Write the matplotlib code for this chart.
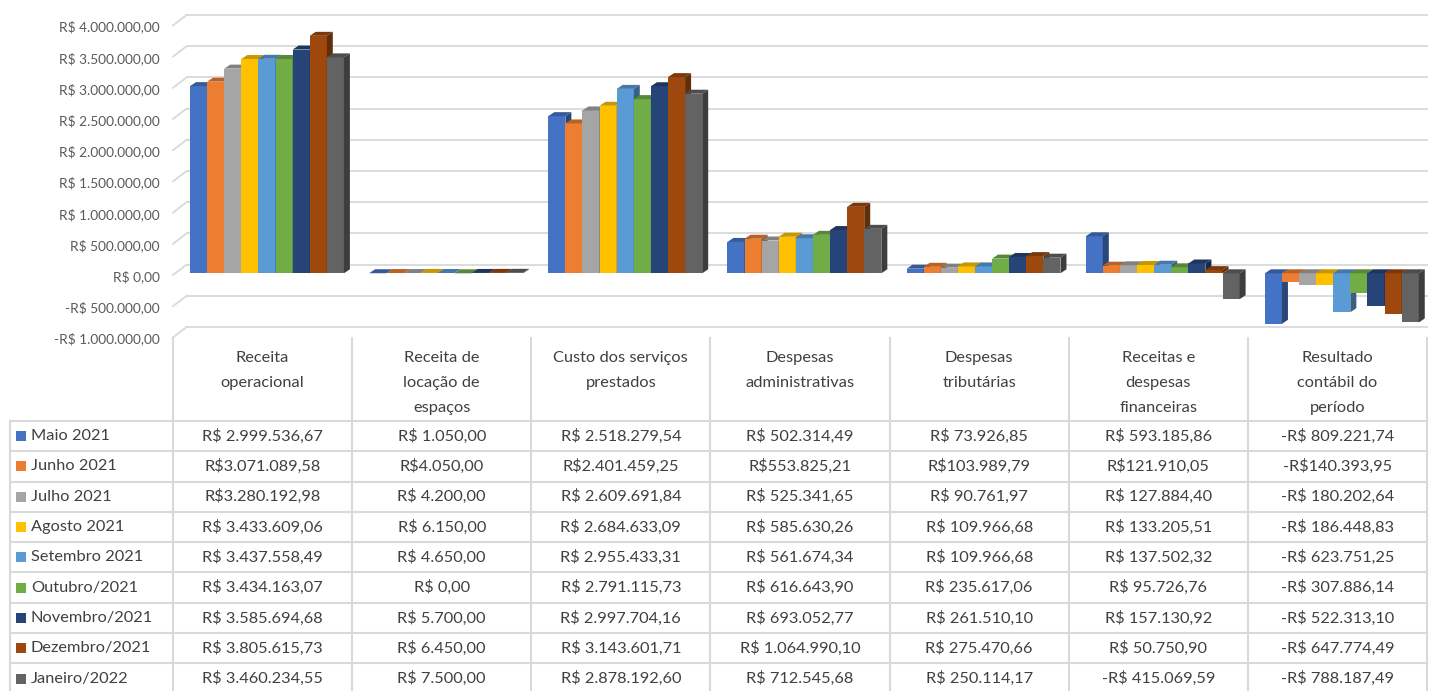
import matplotlib
matplotlib.use("Agg")
import matplotlib.pyplot as plt
import matplotlib.transforms as mtransforms
from matplotlib.patches import Polygon, Rectangle
from matplotlib.lines import Line2D
import numpy as np

plt.rcParams['font.family'] = ['Lato', 'DejaVu Sans']

# --- data (as shown in the table) ---
categories = [
    "Receita\noperacional",
    "Receita de\nlocação de\nespaços",
    "Custo dos serviços\nprestados",
    "Despesas\nadministrativas",
    "Despesas\ntributárias",
    "Receitas e\ndespesas\nfinanceiras",
    "Resultado\ncontábil do\nperíodo",
]
months = ["Maio 2021", "Junho 2021", "Julho 2021", "Agosto 2021", "Setembro 2021",
          "Outubro/2021", "Novembro/2021", "Dezembro/2021", "Janeiro/2022"]

receita_operacional = ["R$ 2.999.536,67", "R$3.071.089,58", "R$3.280.192,98", "R$ 3.433.609,06",
                       "R$ 3.437.558,49", "R$ 3.434.163,07", "R$ 3.585.694,68", "R$ 3.805.615,73",
                       "R$ 3.460.234,55"]
receita_locacao = ["R$ 1.050,00", "R$4.050,00", "R$ 4.200,00", "R$ 6.150,00", "R$ 4.650,00",
                   "R$ 0,00", "R$ 5.700,00", "R$ 6.450,00", "R$ 7.500,00"]
custo_servicos = ["R$ 2.518.279,54", "R$2.401.459,25", "R$ 2.609.691,84", "R$ 2.684.633,09",
                  "R$ 2.955.433,31", "R$ 2.791.115,73", "R$ 2.997.704,16", "R$ 3.143.601,71",
                  "R$ 2.878.192,60"]
despesas_adm = ["R$ 502.314,49", "R$553.825,21", "R$ 525.341,65", "R$ 585.630,26", "R$ 561.674,34",
                "R$ 616.643,90", "R$ 693.052,77", "R$ 1.064.990,10", "R$ 712.545,68"]
despesas_trib = ["R$ 73.926,85", "R$103.989,79", "R$ 90.761,97", "R$ 109.966,68", "R$ 109.966,68",
                 "R$ 235.617,06", "R$ 261.510,10", "R$ 275.470,66", "R$ 250.114,17"]
receitas_fin = ["R$ 593.185,86", "R$121.910,05", "R$ 127.884,40", "R$ 133.205,51", "R$ 137.502,32",
                "R$ 95.726,76", "R$ 157.130,92", "R$ 50.750,90", "-R$ 415.069,59"]
resultado = ["-R$ 809.221,74", "-R$140.393,95", "-R$ 180.202,64", "-R$ 186.448,83", "-R$ 623.751,25",
             "-R$ 307.886,14", "-R$ 522.313,10", "-R$ 647.774,49", "-R$ 788.187,49"]

columns = [receita_operacional, receita_locacao, custo_servicos, despesas_adm,
           despesas_trib, receitas_fin, resultado]

yticks = [4e6, 3.5e6, 3e6, 2.5e6, 2e6, 1.5e6, 1e6, 5e5, 0, -5e5, -1e6]
ytick_labels = ["R$ 4.000.000,00", "R$ 3.500.000,00", "R$ 3.000.000,00", "R$ 2.500.000,00",
                "R$ 2.000.000,00", "R$ 1.500.000,00", "R$ 1.000.000,00", "R$ 500.000,00",
                "R$ 0,00", "-R$ 500.000,00", "-R$ 1.000.000,00"]

colors = ["#4472C4", "#ED7D31", "#A5A5A5", "#FFC000", "#5B9BD5",
          "#70AD47", "#264478", "#9E480E", "#636363"]


def parse_brl(s):
    s = s.strip()
    sign = -1 if s.startswith("-") else 1
    s = s.replace("-", "").replace("R$", "").replace(" ", "").replace(".", "").replace(",", ".")
    return sign * float(s)


values = np.array([[parse_brl(s) for s in col] for col in columns])  # (cat, month)


def shade(c, f):
    r, g, b = matplotlib.colors.to_rgb(c)
    return (r * f, g * f, b * f)


# --- figure ---
W, H = 1429, 691
fig = plt.figure(figsize=(W / 100, H / 100), dpi=100)
fig.patch.set_facecolor("white")

y_top_px, y_bot_px = 23.7, 335.7
ax = fig.add_axes([173 / W, (H - y_bot_px) / H, (1427 - 173) / W, (y_bot_px - y_top_px) / H])
ax.set_xlim(0, len(categories))
ax.set_ylim(-1e6, 4e6)
ax.axis("off")

px_x = len(categories) / (1427 - 173)      # data units per pixel (x)
px_y = 5e6 / (y_bot_px - y_top_px)         # data units per pixel (y)

grid_c = "#D9D9D9"
# back gridlines + slanted side ticks
for v in yticks:
    ax.add_line(Line2D([13.7 * px_x, len(categories)], [v + 8.8 * px_y] * 2,
                       color=grid_c, lw=1.3, clip_on=False, zorder=0))
    ax.add_line(Line2D([0, 13.7 * px_x], [v - 1.7 * px_y, v + 8.8 * px_y],
                       color=grid_c, lw=1.3, clip_on=False, zorder=0))

for v, lab in zip(yticks, ytick_labels):
    ax.text(-13 * px_x, v - 3.4 * px_y, lab, ha="right", va="center",
            fontsize=9.8, color="#595959", clip_on=False)

# --- 3D-like bars ---
bar_w = 17.1 * px_x
x0 = 17 * px_x
ddx, ddy = 6 * px_x, 4 * px_y
for i in range(len(categories)):
    for j in range(len(months)):
        v = values[i, j]
        x = i + x0 + j * bar_w
        top = max(v, 0)
        bot = min(v, 0)
        c = colors[j]
        if v != 0:
            ax.add_patch(Rectangle((x, bot), bar_w, top - bot, facecolor=c,
                                   edgecolor="none", zorder=2))
        # top face
        ax.add_patch(Polygon([(x, top), (x + bar_w, top), (x + bar_w + ddx, top + ddy),
                              (x + ddx, top + ddy)], closed=True, facecolor=shade(c, 0.78),
                             edgecolor="none", zorder=2))
        # right side face
        ax.add_patch(Polygon([(x + bar_w, bot), (x + bar_w + ddx, bot + ddy),
                              (x + bar_w + ddx, top + ddy), (x + bar_w, top)], closed=True,
                             facecolor=shade(c, 0.62), edgecolor="none", zorder=2))

# --- data table ---
px = mtransforms.Affine2D().scale(1 / W, -1 / H).translate(0, 1) + fig.transFigure
tb = mtransforms.blended_transform_factory(ax.transData, px)
tc = "#404040"
line_c = "#D9D9D9"
fs = 11.8

row_top = 421
row_h = 30.3
n_rows = len(months)

# vertical lines
for i in range(len(categories) + 1):
    fig.add_artist(Line2D([i, i], [338, H], transform=tb, color=line_c, lw=1.5))
fig.add_artist(Line2D([10, 10], [row_top, H], transform=px, color=line_c, lw=1.5))
# horizontal lines
for k in range(n_rows + 1):
    y = row_top + k * row_h
    fig.add_artist(Line2D([10, 1427], [y, y], transform=px, color=line_c, lw=1.5))

# header
for i, cat in enumerate(categories):
    for k, part in enumerate(cat.split("\n")):
        fig.text(i + 0.5, 358 + 25 * k, part, transform=tb, ha="center", va="center",
                 fontsize=fs, color=tc)

# rows
for r, m in enumerate(months):
    yc = row_top + row_h * (r + 0.5)
    fig.add_artist(Rectangle((16, yc - 5), 10, 10, transform=px, facecolor=colors[r],
                             edgecolor="none"))
    fig.text(31, yc, m, transform=px, ha="left", va="center", fontsize=fs, color=tc)
    for i, col in enumerate(columns):
        fig.text(i + 0.5, yc, col[r], transform=tb, ha="center", va="center",
                 fontsize=fs, color=tc)

fig.savefig("out.png", dpi=100)
